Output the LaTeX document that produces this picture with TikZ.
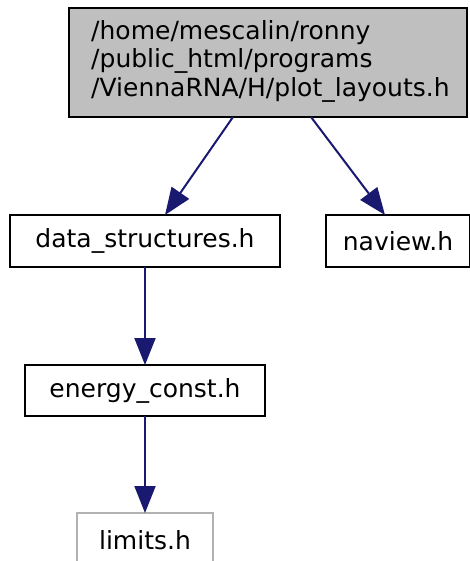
\documentclass[tikz,border=0pt]{standalone}
\usepackage{fontspec}
\setmainfont{DejaVu Sans}
\usetikzlibrary{arrows.meta}
\definecolor{edgec}{HTML}{191970}
\begin{document}
\begin{tikzpicture}[x=1pt,y=-1pt,
  box/.style={draw=black,line width=2pt,rectangle,inner sep=0pt},
  lbl/.style={font=\fontsize{25}{28.5}\selectfont,inner sep=0pt},
  edge/.style={draw=edgec,line width=2pt,-{Triangle[length=27pt,width=21pt]}}]
\useasboundingbox (0,0) rectangle (469,561);
% top box
\draw[box,fill=black!25] (69,8) rectangle (467,117);
\node[lbl,anchor=north west,align=left] (t) at (91,20) {/home/mescalin/ronny\\/public\_html/programs\\/ViennaRNA/H/plot\_layouts.h};
\draw[box] (10,215) rectangle (280,267);
\node[lbl] (ds) at (145,241) {data\_structures.h};
\draw[box] (326,215) rectangle (470,267);
\node[lbl] (nv) at (398,241) {naview.h};
\draw[box] (25,365) rectangle (265,416);
\node[lbl] (ec) at (145,390.5) {energy\_const.h};
\draw[draw=black!30,line width=2pt] (77,513) rectangle (213,570);
\node[lbl] (lm) at (145,540) {limits.h};
\coordinate (a1) at (233,117);
\coordinate (a1e) at (165,215);
\coordinate (a2) at (311,117);
\coordinate (a2e) at (385,215);
\draw[edge] (a1) -- (a1e);
\draw[edge] (a2) -- (a2e);
\draw[edge] (145,267) -- (145,365);
\draw[edge] (145,416) -- (145,513);
\end{tikzpicture}
\end{document}
